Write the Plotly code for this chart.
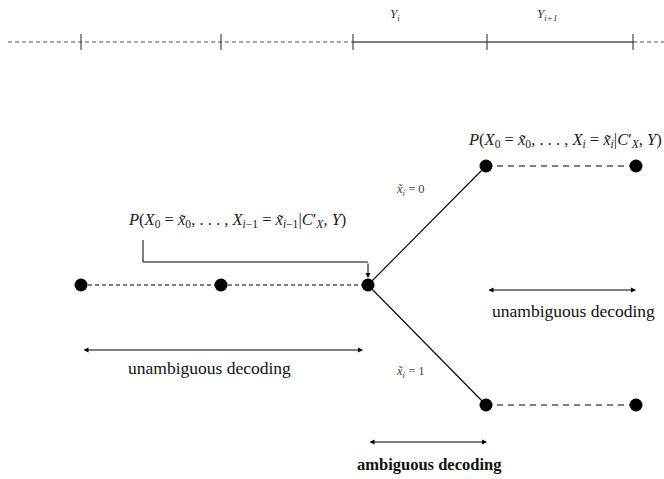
import plotly.graph_objects as go

# --- diagram values (pixel-like coordinates of the diagram space) ---
top_ticks_x = [81, 221, 353, 487, 633]
top_y = 42
top_dashed_left = [8, 353]
top_solid = [353, 633]
top_dashed_right = [633, 664]
top_labels = ["<i>Y<sub>i</sub></i>", "<i>Y<sub>i+1</sub></i>"]
top_labels_x = [395, 547]

chain_x = [81, 221, 368]
chain_y = [285, 285, 285]
branch_x = [486, 636]
branch_up_y = 166
branch_down_y = 405

label_prev = "<i>P</i>(<i>X</i><sub>0</sub> = <i>x̃</i><sub>0</sub>, . . . , <i>X</i><sub><i>i</i>−1</sub> = <i>x̃</i><sub><i>i</i>−1</sub>|<i>C</i>′<sub><i>X</i></sub>, <i>Y</i>)"
label_next = "<i>P</i>(<i>X</i><sub>0</sub> = <i>x̃</i><sub>0</sub>, . . . , <i>X<sub>i</sub></i> = <i>x̃<sub>i</sub></i>|<i>C</i>′<sub><i>X</i></sub>, <i>Y</i>)"
branch_labels = ["<i>x̃<sub>i</sub></i> = 0", "<i>x̃<sub>i</sub></i> = 1"]

fig = go.Figure()
black = "black"
serif = "Liberation Serif, Times New Roman, serif"

def line(xs, ys, dash="solid", width=1, color=black):
    fig.add_trace(go.Scatter(x=xs, y=ys, mode="lines",
                             line=dict(color=color, width=width, dash=dash),
                             hoverinfo="skip", showlegend=False))

# top timeline
line(top_dashed_left, [top_y, top_y], dash="4px,3px", width=1.2, color="#555")
line(top_solid, [top_y, top_y], width=1.6, color="#555")
line(top_dashed_right, [top_y, top_y], dash="4px,3px", width=1.2, color="#555")
for tx in top_ticks_x:
    line([tx, tx], [top_y - 8, top_y + 8], width=1, color="#222")
for lab, lx in zip(top_labels, top_labels_x):
    fig.add_annotation(x=lx, y=14, text=lab, showarrow=False,
                       font=dict(family=serif, size=13, color="#333"))

# chain of decoded nodes
line(chain_x, chain_y, dash="4px,3px", width=1)
# branches
line([chain_x[-1], branch_x[0]], [chain_y[-1], branch_up_y], width=1.1)
line([chain_x[-1], branch_x[0]], [chain_y[-1], branch_down_y], width=1.1)
line(branch_x, [branch_up_y, branch_up_y], dash="6px,5px", width=1)
line(branch_x, [branch_down_y, branch_down_y], dash="6px,5px", width=1)

# nodes
nx = chain_x + branch_x + branch_x
ny = chain_y + [branch_up_y] * 2 + [branch_down_y] * 2
fig.add_trace(go.Scatter(x=nx, y=ny, mode="markers",
                         marker=dict(color=black, size=13),
                         hoverinfo="skip", showlegend=False))

# bracket pointer from label to last node
line([143, 143, 368], [240, 262, 262], width=1)
fig.add_annotation(x=368, y=278, ax=368, ay=262, axref="x", ayref="y",
                   xref="x", yref="y", text="", showarrow=True,
                   arrowhead=2, arrowsize=1, arrowwidth=1, arrowcolor=black)

# labels
fig.add_annotation(x=237, y=220, text=label_prev, showarrow=False,
                   font=dict(family=serif, size=16.5, color="#222"))
fig.add_annotation(x=466, y=140, text=label_next, showarrow=False, xanchor="left",
                   font=dict(family=serif, size=16.5, color="#222"))
fig.add_annotation(x=410, y=190, text=branch_labels[0], showarrow=False,
                   font=dict(family=serif, size=12.5, color="#444"))
fig.add_annotation(x=410, y=372, text=branch_labels[1], showarrow=False,
                   font=dict(family=serif, size=12.5, color="#444"))

# double arrows
def darrow(x0, x1, y):
    fig.add_annotation(x=x1, y=y, ax=x0, ay=y, axref="x", ayref="y",
                       xref="x", yref="y", text="", showarrow=True,
                       arrowhead=2, startarrowhead=2, arrowside="end+start",
                       arrowsize=1, startarrowsize=1, arrowwidth=1, arrowcolor=black)

darrow(82, 363, 350)
darrow(487, 636, 290)
darrow(368, 487, 442)

fig.add_annotation(x=209, y=368, text="unambiguous decoding", showarrow=False,
                   font=dict(family=serif, size=17.5, color="#111"))
fig.add_annotation(x=573, y=311, text="unambiguous decoding", showarrow=False,
                   font=dict(family=serif, size=17.5, color="#111"))
fig.add_annotation(x=429, y=464, text="<b>ambiguous decoding</b>", showarrow=False,
                   font=dict(family=serif, size=16.5, color="#111"))

fig.update_layout(width=664, height=479, margin=dict(l=0, r=0, t=0, b=0),
                  paper_bgcolor="white", plot_bgcolor="white",
                  xaxis=dict(range=[0, 664], visible=False, fixedrange=True),
                  yaxis=dict(range=[479, 0], visible=False, fixedrange=True),
                  showlegend=False)

fig.write_html("out.html", config={"displayModeBar": False},
               post_script="document.body.style.margin='0';document.body.style.padding='0';")
